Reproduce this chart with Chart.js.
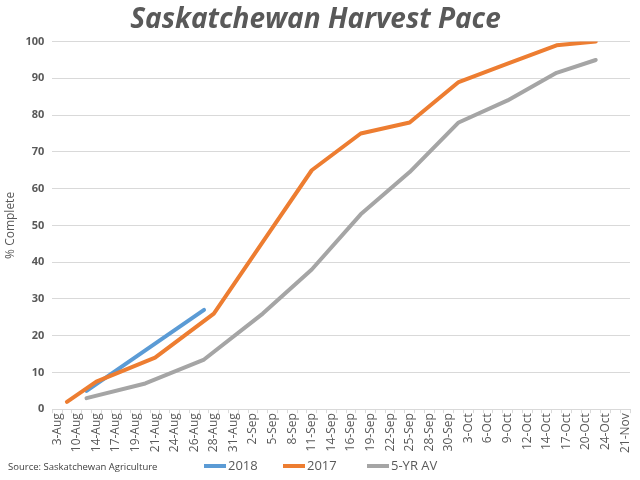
<!DOCTYPE html>
<html>
<head>
<meta charset="utf-8">
<script src="https://cdn.jsdelivr.net/npm/chart.js@4/dist/chart.umd.min.js"></script>
<style>
  html, body { margin: 0; padding: 0; background: #fff; }
  #wrap { width: 640px; height: 480px; position: relative; }
</style>
</head>
<body>
<div id="wrap"><canvas id="c" width="640" height="480"></canvas></div>
<script>
// Tick labels shown on the x axis (every other category is unlabeled)
const tickLabels = ['3-Aug','10-Aug','14-Aug','17-Aug','19-Aug','21-Aug','24-Aug','26-Aug','28-Aug','31-Aug',
  '2-Sep','5-Sep','8-Sep','11-Sep','14-Sep','16-Sep','19-Sep','22-Sep','25-Sep','28-Sep',
  '30-Sep','3-Oct','6-Oct','9-Oct','12-Oct','14-Oct','17-Oct','20-Oct','24-Oct','21-Nov'];
const categoryCount = 59;

// Series: category positions and values (% complete)
const s2018Idx = [3, 9, 15];
const s2018Val = [5, 16, 27];
const s2017Idx = [1, 4, 10, 16, 21, 26, 31, 36, 41, 46, 51, 55];
const s2017Val = [2, 7.5, 14, 26, 45.5, 65, 75, 78, 89, 94, 99, 100];
const s5yrIdx = [3, 9, 15, 21, 26, 31, 36, 41, 46, 51, 55];
const s5yrVal = [3, 7, 13.5, 26, 38, 53, 64.5, 78, 84, 91.5, 95];

const categories = [];
for (let i = 0; i < categoryCount; i++) categories.push(i % 2 === 0 ? tickLabels[i / 2] : '');

function fill(idx, vals) {
  const arr = new Array(categoryCount).fill(null);
  idx.forEach((k, j) => { arr[k] = vals[j]; });
  return arr;
}

// Footer: source note and legend drawn on the canvas
const footerPlugin = {
  id: 'footer',
  afterDraw(chart) {
    const ctx = chart.ctx;
    ctx.save();
    ctx.font = '9.5px "Open Sans"';
    ctx.fillStyle = '#404040';
    ctx.textBaseline = 'middle';
    ctx.textAlign = 'left';
    ctx.fillText('Source: Saskatchewan Agriculture', 8, 467);

    ctx.font = '13px "Open Sans"';
    const y = 466;
    const starts = [204, 283, 367];
    chart.data.datasets.forEach((ds, i) => {
      const x = starts[i];
      ctx.strokeStyle = ds.borderColor;
      ctx.lineWidth = 4;
      ctx.lineCap = 'butt';
      ctx.beginPath();
      ctx.moveTo(x, y);
      ctx.lineTo(x + 22, y);
      ctx.stroke();
      ctx.fillStyle = '#595959';
      ctx.fillText(ds.label, x + 24, y);
    });
    ctx.restore();
  }
};

new Chart(document.getElementById('c'), {
  type: 'line',
  data: {
    labels: categories,
    datasets: [
      { label: '2018', data: fill(s2018Idx, s2018Val), borderColor: '#5B9BD5', backgroundColor: '#5B9BD5', order: 2 },
      { label: '2017', data: fill(s2017Idx, s2017Val), borderColor: '#ED7D31', backgroundColor: '#ED7D31', order: 1 },
      { label: '5-YR AV', data: fill(s5yrIdx, s5yrVal), borderColor: '#A5A5A5', backgroundColor: '#A5A5A5', order: 0 }
    ]
  },
  options: {
    responsive: false,
    animation: false,
    spanGaps: true,
    devicePixelRatio: 1,
    layout: { padding: { left: 1, right: 10, top: 0, bottom: 27 } },
    elements: {
      line: { borderWidth: 4, tension: 0, borderCapStyle: 'round', borderJoinStyle: 'round' },
      point: { radius: 0, hoverRadius: 0 }
    },
    plugins: {
      title: {
        display: true,
        text: 'Saskatchewan Harvest Pace',
        color: '#595959',
        font: { family: '"Open Sans"', size: 28, weight: 'bold', style: 'italic' },
        padding: { top: 3, bottom: 5 }
      },
      legend: { display: false },
      tooltip: { enabled: false }
    },
    scales: {
      x: {
        type: 'category',
        offset: true,
        grid: { display: true, offset: true, drawOnChartArea: false, drawTicks: true, tickLength: 4, color: '#D9D9D9' },
        border: { display: true, color: '#D9D9D9', width: 1 },
        ticks: {
          autoSkip: false,
          maxRotation: 90,
          minRotation: 90,
          color: '#595959',
          font: { family: '"Open Sans"', size: 12 },
          padding: 0
        }
      },
      y: {
        min: 0,
        max: 100,
        ticks: {
          stepSize: 10,
          color: '#595959',
          font: { family: '"Open Sans"', size: 11, weight: 'bold' },
          padding: 8
        },
        grid: { color: '#D9D9D9', lineWidth: 1, drawTicks: false },
        border: { display: false },
        title: {
          display: true,
          text: '% Complete',
          color: '#595959',
          font: { family: '"Open Sans"', size: 12 },
          padding: { top: 2, bottom: 0 }
        }
      }
    }
  },
  plugins: [footerPlugin]
});
</script>
</body>
</html>
